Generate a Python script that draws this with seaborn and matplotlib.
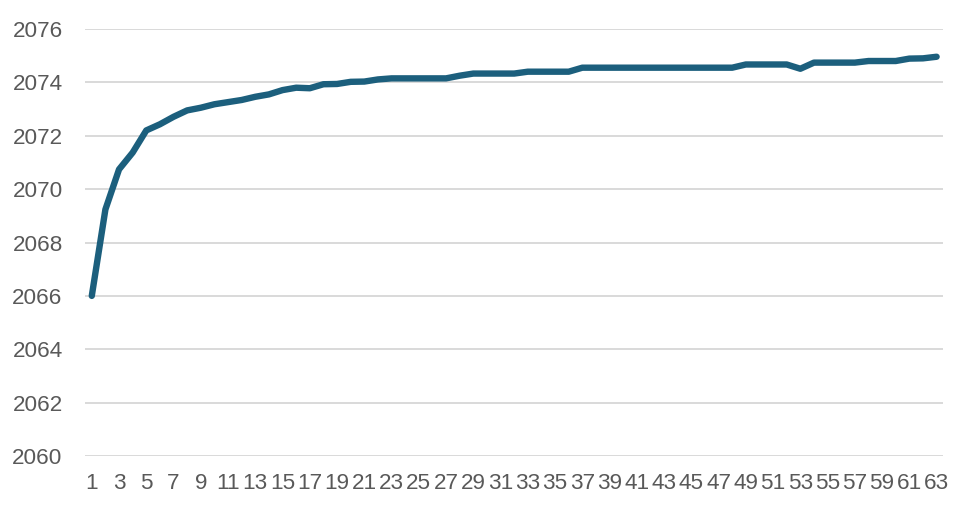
import pandas as pd
import seaborn as sns
import matplotlib.pyplot as plt

# x categories 1..63 and the values
steps = list(range(1, 64))
values = [
    2066.00, 2069.24, 2070.74, 2071.37, 2072.20, 2072.43, 2072.71, 2072.95,
    2073.05, 2073.18, 2073.26, 2073.34, 2073.46, 2073.55, 2073.71, 2073.80,
    2073.78, 2073.93, 2073.94, 2074.02, 2074.03, 2074.11, 2074.15, 2074.15,
    2074.15, 2074.15, 2074.15, 2074.25, 2074.33, 2074.33, 2074.33, 2074.33,
    2074.40, 2074.40, 2074.40, 2074.40, 2074.55, 2074.55, 2074.55, 2074.55,
    2074.55, 2074.55, 2074.55, 2074.55, 2074.55, 2074.55, 2074.55, 2074.55,
    2074.67, 2074.67, 2074.67, 2074.67, 2074.51, 2074.74, 2074.74, 2074.74,
    2074.74, 2074.80, 2074.80, 2074.80, 2074.89, 2074.90, 2074.96,
]
x_labels = [str(s) for s in steps if s % 2 == 1]
y_ticks = list(range(2060, 2077, 2))

df = pd.DataFrame({'step': steps, 'value': values})

sns.set_theme(style='white')
plt.rcParams['font.family'] = ['Liberation Sans', 'DejaVu Sans']

fig = plt.figure(figsize=(9.7, 5.13), dpi=100)
ax = fig.add_axes([0.0876, 0.111, 0.885, 0.8325])

sns.lineplot(data=df, x='step', y='value', color='#1c5f7d', linewidth=4.6,
             ax=ax, solid_capstyle='round', solid_joinstyle='round')

ax.set_xlim(0.5, 63.5)
ax.set_ylim(2060, 2076)
ax.set_yticks(y_ticks)
ax.set_xticks([s for s in steps if s % 2 == 1])
ax.set_xticklabels(x_labels)
ax.yaxis.grid(True, color='#d9d9d9', linewidth=1.4)
ax.set_axisbelow(True)
for side in ax.spines.values():
    side.set_visible(False)
ax.tick_params(axis='both', length=0, labelsize=16.2, colors='#595959')
ax.tick_params(axis='y', pad=16)
ax.tick_params(axis='x', pad=12)
ax.set_xlabel('')
ax.set_ylabel('')

fig.savefig('out.png', dpi=100, facecolor='white')
